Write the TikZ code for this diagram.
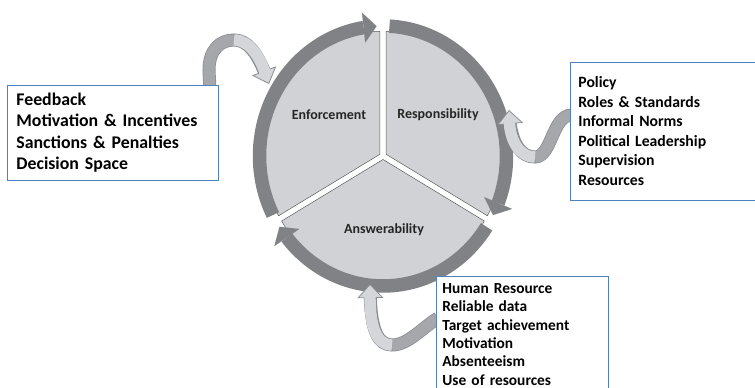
\documentclass[tikz,border=0pt]{standalone}
\usepackage{fontspec}
\setmainfont{Carlito}
\usetikzlibrary{arrows.meta,bending,calc,backgrounds}

\definecolor{boxblue}{RGB}{79,129,189}
\definecolor{diskgray}{RGB}{208,210,213}
\definecolor{bandgray}{RGB}{128,130,133}
\definecolor{ribbonedge}{RGB}{140,143,147}
\definecolor{ribbonlight}{RGB}{212,214,217}
\definecolor{ribbondark}{RGB}{165,167,170}
\definecolor{labelgray}{RGB}{38,38,38}

\tikzset{
  sector/.style={fill=diskgray, draw=bandgray!70!black, line width=0.5pt},
  band/.style={draw=bandgray, line width=13.5pt, -{Triangle[length=13pt,width=30pt,line width=0.01pt]}},
  ribbon edge/.style={draw=ribbonedge, line width=13pt, -{Triangle[length=14pt,width=26pt,fill=ribbonlight,line width=0.8pt]}},
  ribbon dark/.style={draw=ribbondark, line width=11.4pt},
  ribbon light/.style={draw=ribbonlight, line width=11.4pt, shorten >=12.5pt},
  listbox/.style={draw=boxblue, line width=0.8pt, fill=white, align=left, text=black},
  seglabel/.style={font=\bfseries\fontsize{14}{16}\selectfont, text=labelgray},
}

% #1 first (dark) part, #2 turning point, #3 last (light) part
\newcommand{\ribbonarrow}[3]{
  \draw[ribbon edge] #1 #2 #3;
  \draw[ribbon dark] #1 #2;
  \draw[ribbon light] #2 #3;
}

\begin{document}
\begin{tikzpicture}[x=1pt,y=1pt]
  \useasboundingbox (0,0) rectangle (755,388);
  \clip (0,0) rectangle (755,388);

  % boxes
  \node[listbox, anchor=north west, text width=193pt, inner xsep=9pt, minimum height=95pt,
        font=\bfseries\fontsize{17.8}{21.5}\selectfont] (enfbox) at (7,303)
    {Feedback\\Motivation \& Incentives\\Sanctions \& Penalties\\Decision Space};
  \node[listbox, anchor=west, text width=180pt, inner xsep=8pt, minimum height=138pt,
        font=\bfseries\fontsize{15.7}{19.6}\selectfont] (respbox) at (570,257)
    {Policy\\Roles \& Standards\\Informal Norms\\Political Leadership\\Supervision\\Resources};
  \node[listbox, anchor=north west, text width=160pt, inner xsep=6pt, inner ysep=7pt,
        font=\bfseries\fontsize{15.4}{18.4}\selectfont] (ansbox) at (436,112)
    {Human Resource\\Reliable data\\Target achievement\\Motivation\\Absenteeism\\Use of resources};

  \begin{scope}[shift={(383,232)}]
    \coordinate (c) at (0,0);
    \node[seglabel] (enf) at (-54,41) {Enforcement};
    \node[seglabel] (resp) at (55,41) {Responsibility};
    \node[seglabel] (ans) at (1,-74) {Answerability};
    \coordinate (enfin) at (-114,72);
    \coordinate (respin) at (126,46);
    \coordinate (ansin) at (-13,-128);
  \end{scope}

  \begin{pgfonlayer}{background}
  \begin{scope}[shift={(383,232)}]
    \path[sector, shift={(150:3.5)}] (0,0) -- (90:117 and 123)
      arc[start angle=90, end angle=210, x radius=117, y radius=123] -- cycle;
    \path[sector, shift={(30:3.5)}] (0,0) -- (-30:117 and 123)
      arc[start angle=-30, end angle=90, x radius=117, y radius=123] -- cycle;
    \path[sector, shift={(270:3.5)}] (0,0) -- (210:117 and 123)
      arc[start angle=210, end angle=330, x radius=117, y radius=123] -- cycle;

    \draw[band] (207:123.5 and 130) arc[start angle=207, end angle=93, x radius=123.5, y radius=130];
    \draw[band] (87:123.5 and 130) arc[start angle=87, end angle=-27, x radius=123.5, y radius=130];
    \draw[band] (327:123.5 and 130) arc[start angle=327, end angle=213, x radius=123.5, y radius=130];
  \end{scope}

  \ribbonarrow{($(enfbox.north east)+(-9,-2)$) -- (209,318) .. controls (209,338) and (220,348) ..}
    {(234,348)}{.. controls (250,348) and (260,330) .. (enfin)}
  \ribbonarrow{($(respbox.west)+(2,16)$) .. controls (552,273) and (552,231) ..}
    {(535,231)}{.. controls (518,231) and (510,250) .. (respin)}
  \ribbonarrow{($(ansbox.north west)+(2,-42)$) .. controls (422,60) and (408,43) ..}
    {(392,43)}{.. controls (376,43) and (370,62) .. (ansin)}
  \end{pgfonlayer}
\end{tikzpicture}
\end{document}
